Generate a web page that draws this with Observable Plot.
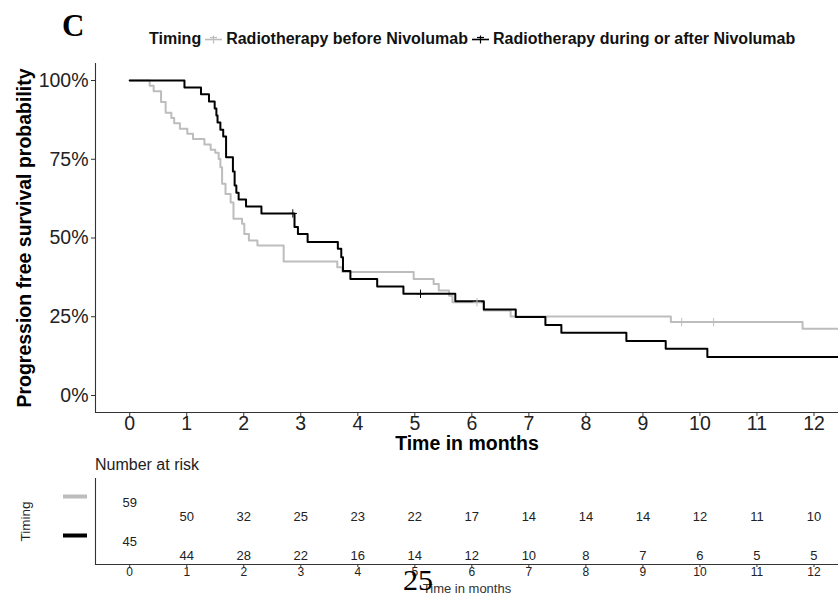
<!DOCTYPE html>
<html><head><meta charset="utf-8">
<script src="https://cdn.jsdelivr.net/npm/d3@7"></script>
<script src="https://cdn.jsdelivr.net/npm/@observablehq/plot@0.6"></script>
<style>
body{margin:0;background:#fff;}
#wrap{position:relative;width:838px;height:595px;overflow:hidden;font-family:"Liberation Sans",Arial,sans-serif;background:#fff;}
#main,#risk{position:absolute;left:0;}
#main{top:0}
#risk{top:470px}
.abs{position:absolute;white-space:nowrap;}
#legend{display:flex;align-items:center;font-weight:bold;font-size:16px;line-height:16px;color:#111;}
#legend svg{margin:0 4px;}
</style></head><body>
<div id="wrap">
  <div id="main"></div>
  <div id="risk"></div>
  <div class="abs" style="left:62px;top:10px;font:bold 31px/31px 'Liberation Serif',serif;color:#000">C</div>
  <div class="abs" id="legend" style="left:149px;top:31px;"></div>
  <div class="abs" style="left:95px;top:457px;font-size:16px;line-height:16px;color:#222">Number at risk</div>
  <div class="abs" style="left:403px;top:565px;font:30px/30px 'Liberation Serif',serif;color:#000">25</div>
</div>
<script>
// ---- data ----
const groups = ["Radiotherapy before Nivolumab", "Radiotherapy during or after Nivolumab"];
const groupColors = ["#bdbdbd", "#000000"];
const legendTitle = "Timing";
const months = [0,1,2,3,4,5,6,7,8,9,10,11,12];
const yTicks = [0, 0.25, 0.5, 0.75, 1];

const beforeTime = [0, 0.35, 0.42, 0.55, 0.63, 0.73, 0.78, 0.88, 1.01, 1.11, 1.31, 1.42, 1.50, 1.56, 1.59, 1.62, 1.68, 1.77, 1.82, 1.97, 2.01, 2.09, 2.24, 2.70, 3.64, 3.73, 4.98, 5.33, 5.42, 5.60, 5.66, 6.21, 6.68, 9.49, 11.80];
const beforeSurv = [1, 0.983, 0.966, 0.932, 0.898, 0.881, 0.864, 0.847, 0.831, 0.814, 0.797, 0.780, 0.771, 0.751, 0.725, 0.672, 0.640, 0.613, 0.561, 0.545, 0.513, 0.492, 0.476, 0.425, 0.407, 0.392, 0.370, 0.354, 0.333, 0.317, 0.296, 0.270, 0.251, 0.233, 0.212];
const beforeCensor = [6.09, 9.68, 10.24];

const duringTime = [0, 0.96, 1.25, 1.39, 1.49, 1.52, 1.54, 1.59, 1.64, 1.69, 1.81, 1.84, 1.87, 1.91, 2.04, 2.31, 2.89, 2.95, 3.12, 3.65, 3.71, 3.74, 3.87, 4.34, 4.80, 5.71, 6.21, 6.77, 7.29, 7.57, 8.71, 9.40, 10.13];
const duringSurv = [1, 0.978, 0.956, 0.933, 0.911, 0.889, 0.867, 0.844, 0.822, 0.756, 0.711, 0.667, 0.644, 0.622, 0.600, 0.578, 0.535, 0.513, 0.487, 0.466, 0.439, 0.395, 0.370, 0.346, 0.323, 0.299, 0.273, 0.249, 0.224, 0.199, 0.173, 0.148, 0.122];
const duringCensor = [2.86, 5.10];

const followUpEnd = 12.5;

const riskBefore = [59, 50, 32, 25, 23, 22, 17, 14, 14, 14, 12, 11, 10];
const riskDuring = [45, 44, 28, 22, 16, 14, 12, 10, 8, 7, 6, 5, 5];

// ---- derived tables ----
const X_DOMAIN = [-0.6, 12.43];
const Y_DOMAIN = [-0.054, 1.054];
const series = [
  {group: groups[0], t: beforeTime, s: beforeSurv, c: beforeCensor},
  {group: groups[1], t: duringTime, s: duringSurv, c: duringCensor}
];
const curveRows = series.flatMap(({group, t, s}) => {
  const rows = t.map((ti, i) => ({group, t: ti, s: s[i]}));
  rows.push({group, t: followUpEnd, s: s[s.length - 1]});
  return rows;
});
const survAt = (t, s, x) => { let v = s[0]; for (let i = 0; i < t.length; i++) if (t[i] <= x) v = s[i]; return v; };
const censorRows = series.flatMap(({group, t, s, c}) => c.map(ci => ({group, t: ci, s: survAt(t, s, ci)})));
const riskRows = [riskBefore, riskDuring].flatMap((arr, gi) => arr.map((n, i) => ({group: groups[gi], t: months[i], n})));
const colorOf = Object.fromEntries(groups.map((g, i) => [g, groupColors[i]]));

const font = "Liberation Sans, Arial, sans-serif";

const main = Plot.plot({
  width: 838, height: 460,
  marginLeft: 95, marginRight: 0, marginTop: 63, marginBottom: 48,
  style: {fontFamily: font, fontSize: "19.5px", color: "#222", background: "white"},
  x: {domain: X_DOMAIN},
  y: {domain: Y_DOMAIN},
  color: {domain: groups, range: groupColors},
  marks: [
    Plot.axisX({ticks: months, tickSize: 4, tickPadding: 0, tickFormat: d => String(d), fontSize: 19.5, stroke: "#333", fill: "#222", label: null}),
    Plot.axisY({ticks: yTicks, tickSize: 4, tickPadding: 3, tickFormat: d3.format(".0%"), fontSize: 19.5, stroke: "#333", fill: "#222", label: null}),
    Plot.ruleX([X_DOMAIN[0]], {stroke: "#333", strokeWidth: 1.1}),
    Plot.ruleY([Y_DOMAIN[0]], {stroke: "#333", strokeWidth: 1.1}),
    Plot.line(curveRows, {x: "t", y: "s", z: "group", stroke: "group", curve: "step-after", strokeWidth: 2, clip: true}),
    Plot.dot(censorRows, {x: "t", y: "s", stroke: "group", symbol: "plus", r: 2.8, strokeWidth: 1}),
    Plot.text(["Time in months"], {frameAnchor: "bottom", dy: 31, fontWeight: "bold", fontSize: 19.5, fill: "#000", lineAnchor: "middle"}),
    Plot.text(["Progression free survival probability"], {frameAnchor: "left", textAnchor: "middle", rotate: -90, dx: -71, fontWeight: "bold", fontSize: 19.5, fill: "#000", lineAnchor: "middle"})
  ]
});
document.getElementById("main").append(main);

const risk = Plot.plot({
  width: 838, height: 125,
  marginLeft: 95, marginRight: 0, marginTop: 8, marginBottom: 31,
  style: {fontFamily: font, fontSize: "12px", color: "#222", background: "transparent"},
  x: {domain: X_DOMAIN},
  y: {type: "point", domain: groups, range: [26, 65], padding: 0},
  marks: [
    Plot.axisX({ticks: months, tickSize: 3, tickPadding: 0, tickFormat: d => String(d), fontSize: 12, stroke: "#333", fill: "#222", label: null}),
    Plot.axisY({tickSize: 24, dx: -8, strokeWidth: 4, stroke: d => colorOf[d], tickFormat: () => "", label: null}),
    Plot.ruleX([X_DOMAIN[0]], {stroke: "#333", strokeWidth: 1.1}),
    Plot.frame({anchor: "bottom", stroke: "#333", strokeWidth: 1.1}),
    Plot.text(riskRows.filter(d => d.t > 0), {x: "t", y: "group", text: "n", dy: 20, fontSize: 13, fill: "#222"}),
    Plot.text(riskRows.filter(d => d.t === 0), {x: "t", y: "group", text: "n", dy: 6, fontSize: 13, fill: "#222"}),
    Plot.text(["Time in months"], {frameAnchor: "bottom", dy: 24, fontSize: 13, fill: "#333", lineAnchor: "middle"}),
    Plot.text(["Timing"], {frameAnchor: "left", textAnchor: "middle", rotate: -90, dx: -70, fontSize: 13.5, fill: "#222", lineAnchor: "middle"})
  ]
});
document.getElementById("risk").append(risk);

// legend
const legend = document.getElementById("legend");
const title = document.createElement("span");
title.textContent = legendTitle;
legend.append(title);
groups.forEach((g, i) => {
  const ns = "http://www.w3.org/2000/svg";
  const svg = document.createElementNS(ns, "svg");
  svg.setAttribute("width", 17); svg.setAttribute("height", 16);
  const c = groupColors[i];
  svg.innerHTML = `<line x1="0" x2="17" y1="8.5" y2="8.5" stroke="${c}" stroke-width="1.6"/><line x1="8.5" x2="8.5" y1="4.5" y2="12.5" stroke="${c}" stroke-width="1.2"/><line x1="5" x2="12" y1="6.5" y2="6.5" stroke="${c}" stroke-width="1.2"/>`;
  legend.append(svg);
  const s = document.createElement("span");
  s.textContent = g;
  legend.append(s);
});
</script>
</body></html>
